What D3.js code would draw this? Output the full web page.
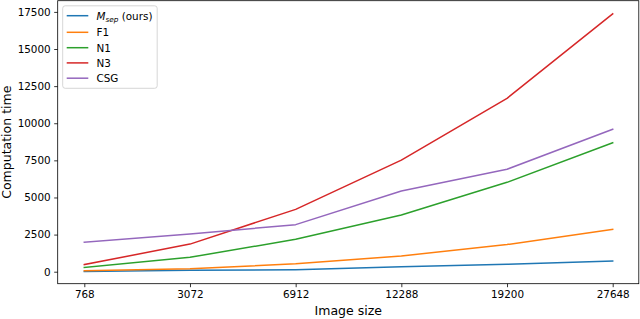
<!DOCTYPE html>
<html><head><meta charset="utf-8">
<script src="https://cdn.jsdelivr.net/npm/d3@7"></script>
<style>body{margin:0;background:#fff}svg{display:block}text{font-family:"DejaVu Sans",sans-serif}</style>
</head><body>
<svg id="c" width="640" height="319"></svg>
<script>
const categories = ["768","3072","6912","12288","19200","27648"];
const msep = [15, 90, 140, 330, 500, 720];
const f1   = [60, 200, 530, 1060, 1830, 2850];
const n1   = [280, 970, 2180, 3820, 6020, 8690];
const n3   = [480, 1860, 4200, 7520, 11680, 17370];
const csg  = [1990, 2540, 3170, 5440, 6900, 9590];
const yTicks = [0,2500,5000,7500,10000,12500,15000,17500];
const seriesNames = ["M_sep", "F1", "N1", "N3", "CSG"];
const seriesValues = [msep, f1, n1, n3, csg];
const colors = ["#1f77b4","#ff7f0e","#2ca02c","#d62728","#9467bd"];

const svg = d3.select("#c");
const L = 57.7, R = 638.8, T = 0.7, B = 283.7;
const x = d3.scalePoint().domain(categories).range([84.3, 612.7]);
const y = d3.scaleLinear().domain([-808, 18254]).range([B, T]);

// axes
const xa = svg.append("g").attr("transform", `translate(0,${B})`)
  .call(d3.axisBottom(x).tickSize(3.5).tickPadding(3.5));
const ya = svg.append("g").attr("transform", `translate(${L},0)`)
  .call(d3.axisLeft(y).tickValues(yTicks).tickSize(3.5).tickPadding(3.5).tickFormat(d3.format("d")));
[xa, ya].forEach(g => {
  g.select(".domain").remove();
  g.selectAll(".tick line").attr("stroke", "#000").attr("stroke-width", 0.8);
  g.selectAll(".tick text").attr("fill", "#000").attr("font-size", 10.4)
   .attr("font-family", "DejaVu Sans");
});

// lines
const line = d3.line().x((d,i) => x(categories[i])).y(d => y(d));
seriesValues.forEach((vals, k) => {
  svg.append("path").datum(vals).attr("d", line)
    .attr("fill", "none").attr("stroke", colors[k]).attr("stroke-width", 1.5)
    .attr("stroke-linejoin", "round").attr("stroke-linecap", "square");
});

// frame
svg.append("rect").attr("x", L).attr("y", T).attr("width", R - L).attr("height", B - T)
  .attr("fill", "none").attr("stroke", "#000").attr("stroke-width", 0.8);

// axis labels
svg.append("text").attr("x", (L + R) / 2).attr("y", 315).attr("text-anchor", "middle")
  .attr("font-size", 12.5).attr("fill", "#000").text("Image size");
svg.append("text").attr("transform", `translate(11,${(T + B) / 2}) rotate(-90)`)
  .attr("text-anchor", "middle").attr("font-size", 12.5).attr("fill", "#000").text("Computation time");

// legend
const lg = svg.append("g");
lg.append("rect").attr("x", 62.7).attr("y", 5.8).attr("width", 94.5).attr("height", 82.5)
  .attr("rx", 2.5).attr("fill", "#fff").attr("fill-opacity", 0.8)
  .attr("stroke", "#cccccc").attr("stroke-width", 0.8);
const rowY = [15.7, 32.3, 47.7, 62.9, 78.2];
seriesNames.forEach((name, k) => {
  lg.append("line").attr("x1", 66.7).attr("x2", 88.3).attr("y1", rowY[k]).attr("y2", rowY[k])
    .attr("stroke", colors[k]).attr("stroke-width", 1.5);
  const t = lg.append("text").attr("x", 96.5).attr("y", rowY[k] + 3.8)
    .attr("font-size", 10.4).attr("fill", "#000");
  if (name === "M_sep") {
    t.append("tspan").attr("font-style", "italic").text("M");
    t.append("tspan").attr("font-style", "italic").attr("font-size", 7.3).attr("dy", 2.2).text("sep");
    t.append("tspan").attr("dy", -2.2).text("\u00a0(ours)");
  } else {
    t.text(name);
  }
});
</script>
</body></html>
